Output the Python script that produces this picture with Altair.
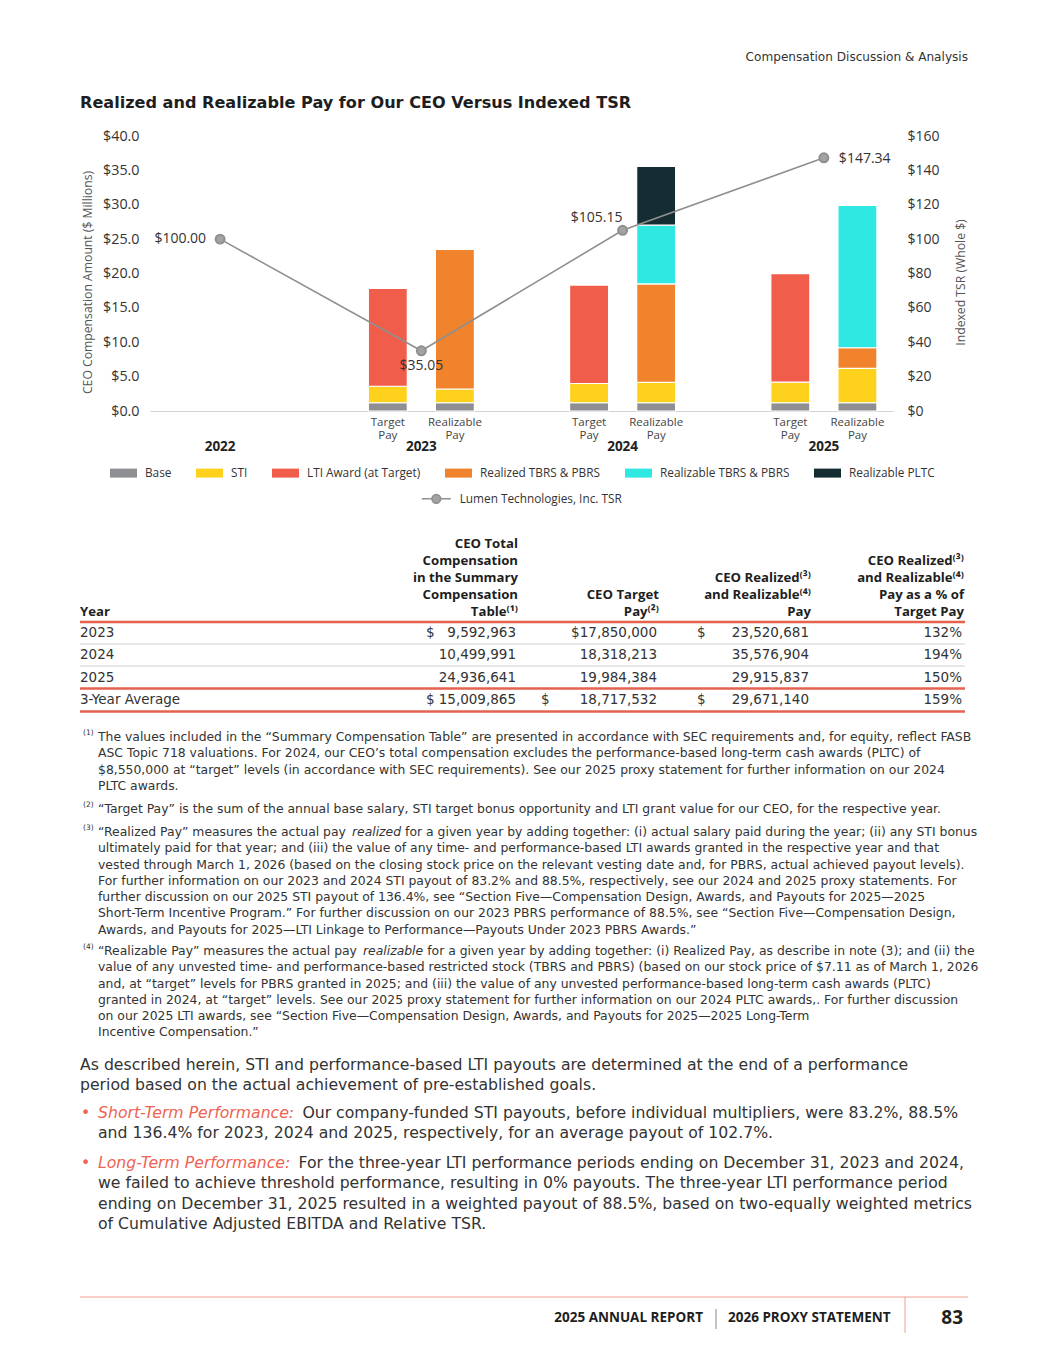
import altair as alt
import pandas as pd

# ---------------------------------------------------------------- data
YEARS = ["2022", "2023", "2024", "2025"]
PAY_TYPES = ["Target Pay", "Realizable Pay"]
COMPONENTS = ["Base", "STI", "LTI Award (at Target)", "Realized TBRS & PBRS",
              "Realizable TBRS & PBRS", "Realizable PLTC"]
COLORS = ["#8d8f92", "#fed11c", "#f15d4b", "#f0832b", "#2ee8e1", "#142d32"]

# $ millions, one entry per bar
BAR_YEAR = ["2023", "2023", "2024", "2024", "2025", "2025"]
BAR_TYPE = ["Target Pay", "Realizable Pay"] * 3
BASE = [1.2, 1.2, 1.2, 1.2, 1.2, 1.2]
STI = [2.4, 2.0, 2.8, 2.95, 3.0, 5.0]
LTI = [14.25, 0, 14.32, 0, 15.78, 0]
REALIZED = [0, 20.32, 0, 14.33, 0, 3.0]
REALIZABLE = [0, 0, 0, 8.55, 0, 20.72]
PLTC = [0, 0, 0, 8.55, 0, 0]

TSR = [100.00, 35.05, 105.15, 147.34]
TSR_SERIES = "Lumen Technologies, Inc. TSR"

HEADER = "Compensation Discussion & Analysis"
TITLE = "Realized and Realizable Pay for Our CEO Versus Indexed TSR"

TABLE_HEAD = [
    ["Year"],
    ["CEO Total", "Compensation", "in the Summary", "Compensation", "Table⁽¹⁾"],
    ["CEO Target", "Pay⁽²⁾"],
    ["CEO Realized⁽³⁾", "and Realizable⁽⁴⁾", "Pay"],
    ["CEO Realized⁽³⁾", "and Realizable⁽⁴⁾", "Pay as a % of", "Target Pay"],
]
ROW_LABELS = ["2023", "2024", "2025", "3-Year Average"]
SCT_TOTAL = [9592963, 10499991, 24936641, 15009865]
TARGET_PAY = [17850000, 18318213, 19984384, 18717532]
REAL_PAY = [23520681, 35576904, 29915837, 29671140]
PCT_TARGET = [132, 194, 150, 159]

FOOTNOTES = [
    ["The values included in the “Summary Compensation Table” are presented in accordance with SEC requirements and, for equity, reflect FASB",
     "ASC Topic 718 valuations. For 2024, our CEO’s total compensation excludes the performance-based long-term cash awards (PLTC) of",
     "$8,550,000 at “target” levels (in accordance with SEC requirements). See our 2025 proxy statement for further information on our 2024",
     "PLTC awards."],
    ["“Target Pay” is the sum of the annual base salary, STI target bonus opportunity and LTI grant value for our CEO, for the respective year."],
    [("“Realized Pay” measures the actual pay ", "realized",
      "for a given year by adding together: (i) actual salary paid during the year; (ii) any STI bonus"),
     "ultimately paid for that year; and (iii) the value of any time- and performance-based LTI awards granted in the respective year and that",
     "vested through March 1, 2026 (based on the closing stock price on the relevant vesting date and, for PBRS, actual achieved payout levels).",
     "For further information on our 2023 and 2024 STI payout of 83.2% and 88.5%, respectively, see our 2024 and 2025 proxy statements. For",
     "further discussion on our 2025 STI payout of 136.4%, see “Section Five—Compensation Design, Awards, and Payouts for 2025—2025",
     "Short-Term Incentive Program.” For further discussion on our 2023 PBRS performance of 88.5%, see “Section Five—Compensation Design,",
     "Awards, and Payouts for 2025—LTI Linkage to Performance—Payouts Under 2023 PBRS Awards.”"],
    [("“Realizable Pay” measures the actual pay ", "realizable",
      "for a given year by adding together: (i) Realized Pay, as describe in note (3); and (ii) the"),
     "value of any unvested time- and performance-based restricted stock (TBRS and PBRS) (based on our stock price of $7.11 as of March 1, 2026",
     "and, at “target” levels for PBRS granted in 2025; and (iii) the value of any unvested performance-based long-term cash awards (PLTC)",
     "granted in 2024, at “target” levels. See our 2025 proxy statement for further information on our 2024 PLTC awards,. For further discussion",
     "on our 2025 LTI awards, see “Section Five—Compensation Design, Awards, and Payouts for 2025—2025 Long-Term",
     "Incentive Compensation.”"],
]
FN_MARKS = ["(1)", "(2)", "(3)", "(4)"]

BODY = ["As described herein, STI and performance-based LTI payouts are determined at the end of a performance",
        "period based on the actual achievement of pre-established goals."]
BULLETS = [
    ("Short-Term Performance:",
     ["Our company-funded STI payouts, before individual multipliers, were 83.2%, 88.5%",
      "and 136.4% for 2023, 2024 and 2025, respectively, for an average payout of 102.7%."]),
    ("Long-Term Performance:",
     ["For the three-year LTI performance periods ending on December 31, 2023 and 2024,",
      "we failed to achieve threshold performance, resulting in 0% payouts. The three-year LTI performance period",
      "ending on December 31, 2025 resulted in a weighted payout of 88.5%, based on two-equally weighted metrics",
      "of Cumulative Adjusted EBITDA and Relative TSR."]),
]
FOOTER_LEFT = "2025 ANNUAL REPORT"
FOOTER_RIGHT = "2026 PROXY STATEMENT"
PAGE_NO = "83"

# ---------------------------------------------------------------- layout
FONT = "Open Sans"          # chart, table header, footer
TFONT = "DejaVu Sans"       # running text
OX, OY = 150, 136           # page position of the bar plot origin
W, H = 743, 275             # bar plot size
PAGE_W, PAGE_H = 1032, 1349
HALF_GAP = 1 / 6            # bar offset from the group centre (group units)
RED = "#e4624f"
SALMON = "#f1a08f"
INK = "#333333"
FN_SIZE, BODY_SIZE = 12.4, 15.7

# approximate DejaVu Sans advance widths (em) used to chain mixed-style runs
DV = {" ": .318, "a": .613, "b": .635, "c": .550, "d": .635, "e": .615, "f": .352,
      "g": .635, "h": .634, "i": .278, "l": .278, "m": .974, "n": .634, "o": .612,
      "p": .635, "r": .411, "s": .521, "t": .392, "u": .634, "y": .592, "z": .525,
      "R": .695, "P": .603, "S": .635, "T": .611, "L": .557, "-": .361, ":": .337,
      "“": .521, "”": .521}


def dv_width(s, size):
    return sum(DV.get(ch, .6) for ch in s) * size


def px(x):
    return x - OX


def py(y):
    return y - OY


# ---------------------------------------------------------------- bar data
series = [BASE, STI, LTI, REALIZED, REALIZABLE, PLTC]
rows, bar_rows = [], []
for i, (yr, tp) in enumerate(zip(BAR_YEAR, BAR_TYPE)):
    j = PAY_TYPES.index(tp)
    xpos = YEARS.index(yr) + (j - 0.5) * 2 * HALF_GAP
    bar_rows.append(dict(xpos=xpos, label=tp.replace(" ", "\n")))
    for k, comp in enumerate(COMPONENTS):
        v = series[k][i]
        if v > 0:
            rows.append(dict(year=yr, type=tp, component=comp, value=v, order=k, xpos=xpos))
bar_df = pd.DataFrame(rows)
bar_lab_df = pd.DataFrame(bar_rows)
year_df = pd.DataFrame(dict(xpos=list(range(len(YEARS))), year=YEARS))
tsr_df = pd.DataFrame(dict(year=YEARS, tsr=TSR, xpos=list(range(len(YEARS))),
                           series=TSR_SERIES))
tsr_df["label"] = tsr_df["tsr"].map(lambda v: f"${v:,.2f}")

xscale = alt.Scale(domain=[-66 / 204, 677 / 204], nice=False, zero=False)
x_axis = alt.Axis(title=None, labels=False, ticks=False, grid=False,
                  domainColor="#d2d2d2", domainWidth=1.2)
X_ENC = alt.X("xpos:Q", scale=xscale, axis=x_axis)

RECT_PATH = "M-1.5,-0.5L1.5,-0.5L1.5,0.5L-1.5,0.5Z"
LINE_PATH = "M-1.5,0L-0.45,0M0.45,0L1.5,0M-0.45,0A0.45,0.45,0,1,1,0.45,0A0.45,0.45,0,1,1,-0.45,0Z"

left_axis = alt.Axis(orient="left", title="CEO Compensation Amount ($ Millions)",
                     values=list(range(0, 41, 5)), format="$.1f", grid=False,
                     domain=False, ticks=False, labelPadding=11, labelFont=FONT,
                     labelFontSize=14.3, labelColor=INK, titleFont=FONT,
                     titleFontSize=12.2, titleFontWeight="normal", titleColor="#555",
                     titlePadding=8, titleY=146)
right_axis = alt.Axis(orient="right", title="Indexed TSR (Whole $)",
                      values=list(range(0, 161, 20)), format="$,.0f", grid=False,
                      domain=False, ticks=False, labelPadding=14, labelFont=FONT,
                      labelFontSize=14, labelColor=INK, titleFont=FONT,
                      titleFontSize=12.2, titleFontWeight="normal", titleColor="#555",
                      titlePadding=28, titleAngle=270, titleY=146)

bars = alt.Chart(bar_df).mark_bar(size=39, stroke="white", strokeWidth=1.2).encode(
    x=X_ENC,
    y=alt.Y("value:Q", stack="zero", scale=alt.Scale(domain=[0, 40], nice=False),
            axis=left_axis),
    color=alt.Color("component:N", scale=alt.Scale(domain=COMPONENTS, range=COLORS),
                    legend=alt.Legend(title=None, orient="none", legendX=-35.5,
                                      legendY=328, direction="horizontal",
                                      symbolType=RECT_PATH, symbolSize=324,
                                      symbolStrokeWidth=0, symbolOpacity=1,
                                      labelFont=FONT, labelFontSize=11.8,
                                      labelColor=INK, labelOffset=12.5,
                                      columnPadding=24, labelLimit=300)),
    order=alt.Order("order:Q", sort="ascending"),
)

Y_TSR = alt.Y("tsr:Q", scale=alt.Scale(domain=[0, 160], nice=False), axis=right_axis)
tsr_base = alt.Chart(tsr_df).encode(x=X_ENC, y=Y_TSR)
tsr_line = tsr_base.mark_line(
    strokeWidth=1.6,
    point=alt.OverlayMarkDef(filled=True, size=80, color="#a3a3a3", opacity=1),
).encode(
    stroke=alt.Stroke("series:N", scale=alt.Scale(domain=[TSR_SERIES], range=["#8f8f8f"]),
                      legend=alt.Legend(title=None, orient="none", legendX=275.8,
                                        legendY=352.3, symbolType=LINE_PATH,
                                        symbolSize=374, symbolStrokeWidth=1.6,
                                        symbolFillColor="#a3a3a3", labelFont=FONT,
                                        labelFontSize=11.8, labelColor=INK,
                                        labelOffset=12.9, labelLimit=300)))


def tsr_label(year, align, dx, dy):
    return tsr_base.transform_filter(alt.datum.year == year).mark_text(
        align=align, dx=dx, dy=dy, font=FONT, fontSize=14, color=INK
    ).encode(text="label:N")


tsr_group = alt.layer(
    tsr_line,
    tsr_label("2022", "right", -14, 0),
    tsr_label("2023", "center", 0, 15),
    tsr_label("2024", "center", -26, -12),
    tsr_label("2025", "left", 15, 1),
)

sub_labels = alt.Chart(bar_lab_df).mark_text(
    font=FONT, fontSize=11.5, color="#444", lineBreak="\n", lineHeight=13,
    baseline="top").encode(x=X_ENC, y=alt.value(py(416.5)), text="label:N")
years_txt = alt.Chart(year_df).mark_text(font=FONT, fontSize=13.5, fontWeight="bold",
                                         color="#222").encode(
    x=X_ENC, y=alt.value(py(446.5)), text="year:N")


# ---------------------------------------------------------------- page text
def tlayer(items, **mark):
    df = pd.DataFrame(items, columns=["text", "x", "y"])
    props = dict(font=TFONT, color=INK, baseline="middle", align="left")
    props.update(mark)
    return alt.Chart(df).mark_text(**props).encode(
        x=alt.X("x:Q", scale=None, axis=None),
        y=alt.Y("y:Q", scale=None, axis=None),
        text="text:N")


def rlayer(items, color, width):
    df = pd.DataFrame(items, columns=["x", "x2", "y", "y2"])
    return alt.Chart(df).mark_rule(color=color, strokeWidth=width).encode(
        x=alt.X("x:Q", scale=None, axis=None), x2="x2:Q",
        y=alt.Y("y:Q", scale=None, axis=None), y2="y2:Q")


layers = []
layers.append(tlayer([(HEADER, px(968), py(57))], align="right", fontSize=12.1))
layers.append(tlayer([(TITLE, px(80), py(103))], fontSize=16.1, fontWeight="bold",
                     color="#1e1e1e"))

# table
HEAD_R = [518, 659, 811, 964]
CELL_R = [516, 657, 809, 962]
HEAD_BOTTOM, HEAD_LH = 611.5, 16.9
ROW_TOP, ROW_LH = 633, 22.4
head_items, head_left = [], []
for c, lines in enumerate(TABLE_HEAD):
    n = len(lines)
    for j, t in enumerate(lines):
        y = py(HEAD_BOTTOM - (n - 1 - j) * HEAD_LH)
        if c == 0:
            head_left.append((t, px(80), y))
        else:
            head_items.append((t, px(HEAD_R[c - 1]), y))
layers.append(tlayer(head_left, font=FONT, fontSize=13.2, fontWeight="bold",
                     color="#1e1e1e"))
layers.append(tlayer(head_items, font=FONT, align="right", fontSize=13.2,
                     fontWeight="bold", color="#1e1e1e"))

cell_left, cell_right = [], []
DOLLAR_X = [426, 541, 697]
for r, lab in enumerate(ROW_LABELS):
    y = py(ROW_TOP + r * ROW_LH)
    cell_left.append((lab, px(80), y))
    for c, col in enumerate([SCT_TOTAL, TARGET_PAY, REAL_PAY]):
        txt = f"{col[r]:,}"
        first_or_avg = r in (0, len(ROW_LABELS) - 1)
        if first_or_avg and c == 1 and r == 0:
            txt = "$" + txt
        elif first_or_avg:
            cell_left.append(("$", px(DOLLAR_X[c]), y))
        cell_right.append((txt, px(CELL_R[c]), y))
    cell_right.append((f"{PCT_TARGET[r]}%", px(CELL_R[3]), y))
layers.append(tlayer(cell_left, fontSize=13.5))
layers.append(tlayer(cell_right, align="right", fontSize=13.5))

layers.append(rlayer([(px(80), px(965), py(y), py(y)) for y in (622, 688.5, 711.5)], RED, 2.5))
layers.append(rlayer([(px(80), px(965), py(y), py(y)) for y in (644, 666)], "#cfcfcf", 1.2))

# footnotes
FN_START = [737, 809, 832, 951]
FN_LH = 16.25
FN_X = 98
fn_plain, fn_ital, fn_marks = [], [], []
for f, lines in enumerate(FOOTNOTES):
    y0 = FN_START[f]
    fn_marks.append((FN_MARKS[f], px(83), py(y0 - 4)))
    for j, ln in enumerate(lines):
        y = py(y0 + j * FN_LH)
        if isinstance(ln, tuple):
            a, b, c = ln
            xb = FN_X + dv_width(a, FN_SIZE)
            xc = xb + dv_width(b + " ", FN_SIZE)
            fn_plain.append((a.rstrip(), px(FN_X), y))
            fn_ital.append((b, px(xb), y))
            fn_plain.append((c, px(xc), y))
        else:
            fn_plain.append((ln, px(FN_X), y))
layers.append(tlayer(fn_marks, fontSize=7.5))
layers.append(tlayer(fn_plain, fontSize=FN_SIZE))
layers.append(tlayer(fn_ital, fontSize=FN_SIZE, fontStyle="italic"))

# body
BODY_LH = 20.4
body_items = [(t, px(80), py(1065 + j * BODY_LH)) for j, t in enumerate(BODY)]
BULLET_START = [1113, 1163]
bullet_dots, bullet_ital = [], []
for b, (head, lines) in enumerate(BULLETS):
    y0 = BULLET_START[b]
    bullet_dots.append(("•", px(81), py(y0)))
    bullet_ital.append((head, px(98), py(y0)))
    for j, t in enumerate(lines):
        x = 98 + dv_width(head + " ", BODY_SIZE) if j == 0 else 98
        body_items.append((t, px(x), py(y0 + j * BODY_LH)))
layers.append(tlayer(body_items, fontSize=BODY_SIZE))
layers.append(tlayer(bullet_dots, fontSize=BODY_SIZE, color="#ee6352"))
layers.append(tlayer(bullet_ital, fontSize=BODY_SIZE, fontStyle="italic", color="#ee6352"))

# footer
layers.append(rlayer([(px(80), px(968), py(1297), py(1297)),
                      (px(905), px(905), py(1297), py(1333))], SALMON, 1))
layers.append(rlayer([(px(716), px(716), py(1309), py(1329))], "#9a9a9a", 1.2))
layers.append(tlayer([(FOOTER_LEFT, px(703), py(1318))], font=FONT, align="right",
                     fontSize=13.5, fontWeight="bold", color="#1e1e1e"))
layers.append(tlayer([(FOOTER_RIGHT, px(728), py(1318))], font=FONT, fontSize=13.5,
                     fontWeight="bold", color="#1e1e1e"))
layers.append(tlayer([(PAGE_NO, px(963), py(1318))], font=FONT, align="right",
                     fontSize=19, fontWeight="bold", color="#1e1e1e"))

chart = alt.layer(
    bars, tsr_group, sub_labels, years_txt, *layers
).resolve_scale(y="independent").properties(
    width=W, height=H,
    padding={"left": OX - 8, "top": OY - 8, "right": PAGE_W - (OX - 8) - W,
             "bottom": PAGE_H - (OY - 8) - H},
    autosize=alt.AutoSizeParams(type="none"),
    background="white",
).configure_view(stroke=None)

chart.save("out.html", embed_options={"renderer": "svg", "actions": False})
